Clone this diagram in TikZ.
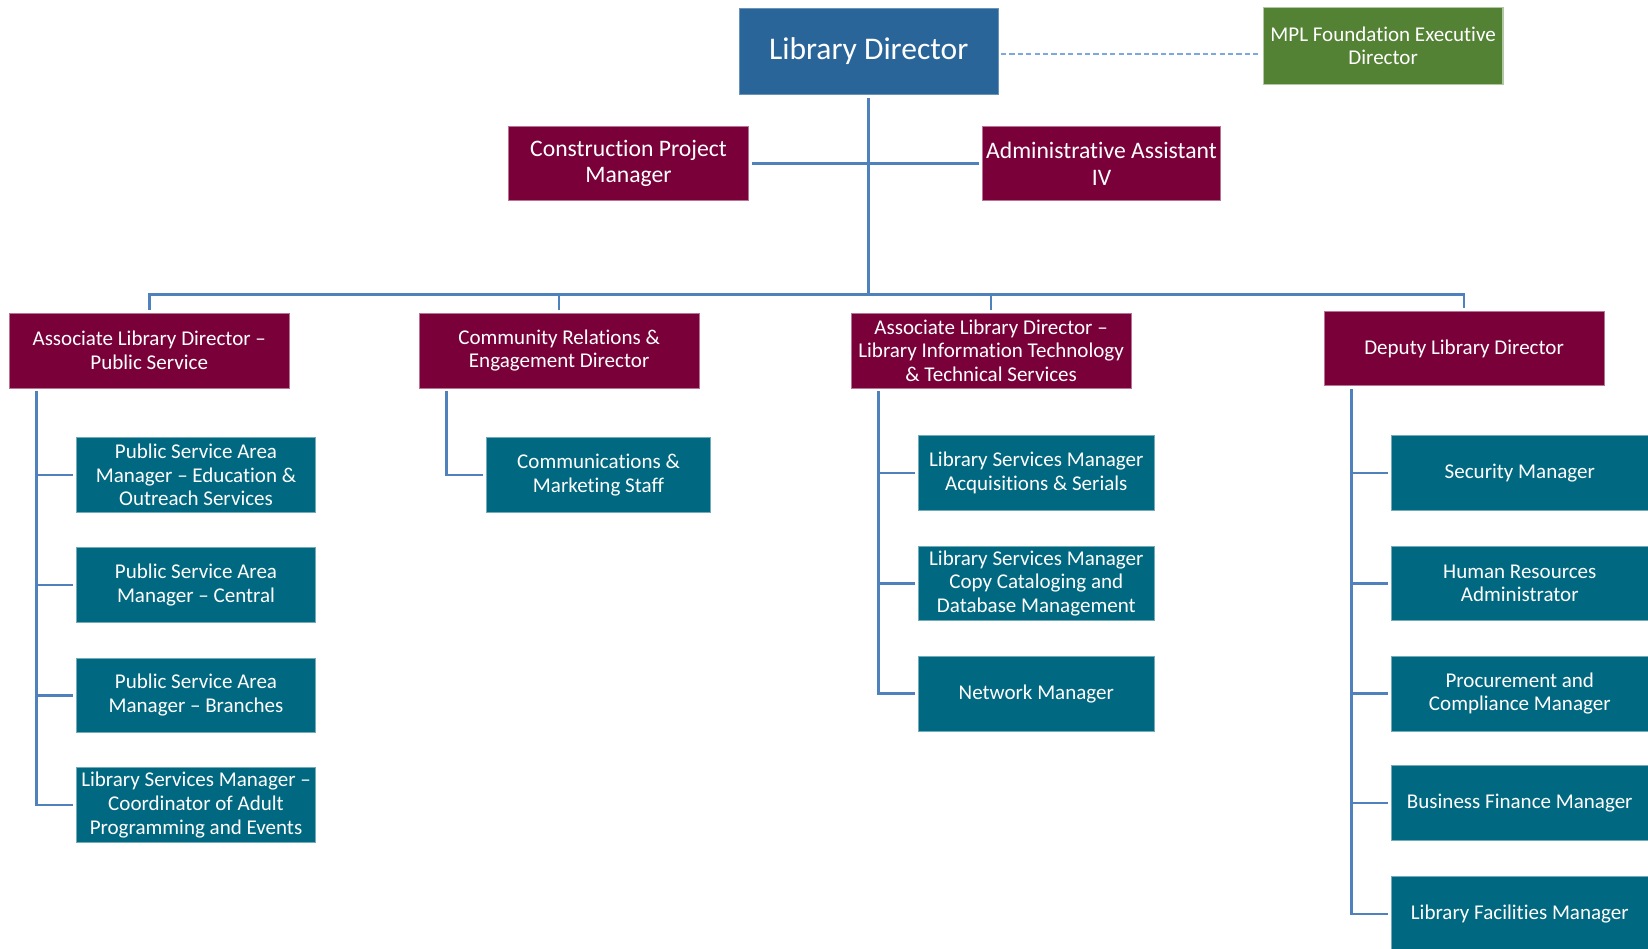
\documentclass[tikz,border=0pt]{standalone}
\usepackage{fontspec}
\setmainfont{Carlito}[Ligatures={TeX,NoCommon}]
\usepackage{tikz}
\definecolor{orgmaroon}{RGB}{122,0,58}
\definecolor{orgteal}{RGB}{0,104,128}
\definecolor{orgblue}{RGB}{42,101,154}
\definecolor{orggreen}{RGB}{84,130,53}
\definecolor{orgline}{RGB}{79,129,189}
\definecolor{orgdash}{RGB}{125,168,222}

\begin{document}
\begin{tikzpicture}[x=1pt,y=-1pt,
  box/.style={rectangle,text=white,align=center,inner sep=0pt,line width=0.6pt,font=\fontsize{20}{22.5}\selectfont},
  head/.style={box,fill=orgmaroon,draw=orgmaroon!55!white,minimum width=266pt,minimum height=71pt},
  staff/.style={box,fill=orgteal,draw=orgteal!55!white,minimum height=71pt},
  link/.style={draw=orgline,line width=2.5pt},
  branch/.style={link,shorten >=3pt}]
\useasboundingbox (0,0) rectangle (1568,902);
\clip (0,0) rectangle (1568,902);

\node[box,fill=orgblue,draw=orgblue!70!white,minimum width=247pt,minimum height=82pt,font=\fontsize{30}{34}\selectfont] (dir) at (826.5,49) {\raisebox{-2pt}{Library Director}};
\node[box,fill=orggreen,draw=orggreen!45!white,line width=1pt,minimum width=228pt,minimum height=73pt] (mpl) at (1316,43.5) {MPL Foundation Executive\\Director};
\node[head,minimum width=228pt,font=\fontsize{22.5}{25.5}\selectfont] (cpm) at (598,155.5) {Construction Project\\Manager};
\node[head,minimum width=226pt,font=\fontsize{22.5}{25.5}\selectfont] (asst) at (1048,155.5) {Administrative Assistant\\IV};

\node[head] (pub) at (142,333.5) {Associate Library Director –\\Public Service};
\node[head] (comrel) at (532,333.5) {Community Relations \&\\Engagement Director};
\node[head] (tech) at (943,333.5) {Associate Library Director –\\Library Information Technology\\\& Technical Services};
\node[head] (dep) at (1393,331.5) {Deputy Library Director};

\node[staff,minimum width=227pt] (ps1) at (186.5,452) {Public Service Area\\Manager – Education \&\\Outreach Services};
\node[staff,minimum width=227pt] (ps2) at (186.5,556.5) {Public Service Area\\Manager – Central};
\node[staff,minimum width=227pt] (ps3) at (186.5,661.5) {Public Service Area\\Manager – Branches};
\node[staff,minimum width=227pt] (ps4) at (186.5,766) {Library Services Manager –\\Coordinator of Adult\\Programming and Events};

\node[staff,minimum width=213pt] (cm1) at (569.5,452) {Communications \&\\Marketing Staff};

\node[staff,minimum width=224pt] (lt1) at (986,450) {Library Services Manager\\Acquisitions \& Serials};
\node[staff,minimum width=224pt] (lt2) at (986,555) {Library Services Manager\\Copy Cataloging and\\Database Management};
\node[staff,minimum width=224pt] (lt3) at (986,660) {Network Manager};

\node[staff,minimum width=244pt] (dp1) at (1446,450) {Security Manager};
\node[staff,minimum width=244pt] (dp2) at (1446,555) {Human Resources\\Administrator};
\node[staff,minimum width=244pt] (dp3) at (1446,660) {Procurement and\\Compliance Manager};
\node[staff,minimum width=244pt] (dp4) at (1446,764) {Business Finance Manager};
\node[staff,minimum width=244pt] (dp5) at (1446,869.5) {Library Facilities Manager};

\coordinate (hub) at (826.5,280);
\draw[link] ([yshift=-3pt]dir.south) -- (hub);
\draw[link,shorten <=3pt,shorten >=3pt] (cpm.east) -- (asst.west);
\draw[orgdash,line width=2pt,dash pattern=on 5pt off 3pt,shorten <=2pt,shorten >=4pt] ([yshift=-2pt]dir.east) -- ([yshift=-2pt]dir.east -| mpl.west);

\draw[branch] (hub) -| (pub.north);
\draw[branch] (hub) -| (comrel.north);
\draw[branch] (hub) -| (tech.north);
\draw[branch] (hub) -| (dep.north);

\draw[branch] ([xshift=26pt,yshift=-3pt]pub.south west) |- (ps1.west);
\draw[branch] ([xshift=26pt,yshift=-3pt]pub.south west) |- (ps2.west);
\draw[branch] ([xshift=26pt,yshift=-3pt]pub.south west) |- (ps3.west);
\draw[branch] ([xshift=26pt,yshift=-3pt]pub.south west) |- (ps4.west);

\draw[branch] ([xshift=26pt,yshift=-3pt]comrel.south west) |- (cm1.west);

\draw[branch] ([xshift=26pt,yshift=-3pt]tech.south west) |- (lt1.west);
\draw[branch] ([xshift=26pt,yshift=-3pt]tech.south west) |- (lt2.west);
\draw[branch] ([xshift=26pt,yshift=-3pt]tech.south west) |- (lt3.west);

\draw[branch] ([xshift=26pt,yshift=-3pt]dep.south west) |- (dp1.west);
\draw[branch] ([xshift=26pt,yshift=-3pt]dep.south west) |- (dp2.west);
\draw[branch] ([xshift=26pt,yshift=-3pt]dep.south west) |- (dp3.west);
\draw[branch] ([xshift=26pt,yshift=-3pt]dep.south west) |- (dp4.west);
\draw[branch] ([xshift=26pt,yshift=-3pt]dep.south west) |- (dp5.west);
\end{tikzpicture}
\end{document}
